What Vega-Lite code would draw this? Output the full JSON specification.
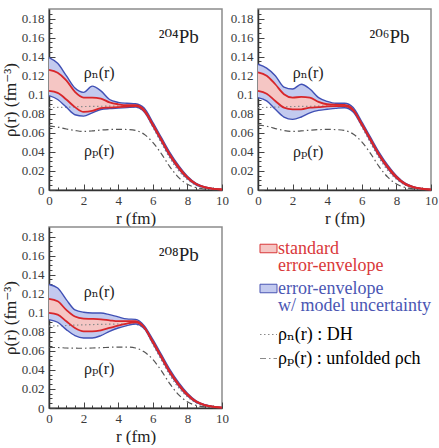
{
  "$schema": "https://vega.github.io/schema/vega-lite/v6.json",
  "background": "white",
  "padding": {"left": 0, "top": 7, "right": 0, "bottom": 0},
  "datasets": {
    "dens": [
      {"nuc": "204", "r": 0, "bh": 0.139, "rh": 0.126, "rl": 0.104, "bl": 0.099, "dh": 0.0865, "p": 0.067},
      {"nuc": "204", "r": 0.5, "bh": 0.133, "rh": 0.123, "rl": 0.102, "bl": 0.095, "dh": 0.0867, "p": 0.066},
      {"nuc": "204", "r": 1, "bh": 0.12, "rh": 0.115, "rl": 0.095, "bl": 0.087, "dh": 0.087, "p": 0.064},
      {"nuc": "204", "r": 1.5, "bh": 0.107, "rh": 0.103, "rl": 0.087, "bl": 0.079, "dh": 0.0873, "p": 0.0625},
      {"nuc": "204", "r": 2, "bh": 0.1025, "rh": 0.097, "rl": 0.082, "bl": 0.0775, "dh": 0.0876, "p": 0.0615},
      {"nuc": "204", "r": 2.5, "bh": 0.109, "rh": 0.097, "rl": 0.083, "bl": 0.081, "dh": 0.0878, "p": 0.062},
      {"nuc": "204", "r": 3, "bh": 0.104, "rh": 0.096, "rl": 0.086, "bl": 0.0845, "dh": 0.0879, "p": 0.063},
      {"nuc": "204", "r": 3.5, "bh": 0.095, "rh": 0.092, "rl": 0.0865, "bl": 0.0855, "dh": 0.088, "p": 0.0635},
      {"nuc": "204", "r": 4, "bh": 0.092, "rh": 0.09, "rl": 0.087, "bl": 0.086, "dh": 0.088, "p": 0.0637},
      {"nuc": "204", "r": 4.5, "bh": 0.091, "rh": 0.089, "rl": 0.0875, "bl": 0.0865, "dh": 0.0877, "p": 0.0635},
      {"nuc": "204", "r": 5, "bh": 0.0905, "rh": 0.089, "rl": 0.088, "bl": 0.087, "dh": 0.087, "p": 0.0625},
      {"nuc": "204", "r": 5.5, "bh": 0.086, "rh": 0.084, "rl": 0.083, "bl": 0.082, "dh": 0.082, "p": 0.0585},
      {"nuc": "204", "r": 6, "bh": 0.071, "rh": 0.069, "rl": 0.068, "bl": 0.067, "dh": 0.066, "p": 0.05},
      {"nuc": "204", "r": 6.5, "bh": 0.055, "rh": 0.053, "rl": 0.052, "bl": 0.051, "dh": 0.049, "p": 0.038},
      {"nuc": "204", "r": 7, "bh": 0.039, "rh": 0.037, "rl": 0.036, "bl": 0.035, "dh": 0.033, "p": 0.024},
      {"nuc": "204", "r": 7.5, "bh": 0.0255, "rh": 0.024, "rl": 0.023, "bl": 0.022, "dh": 0.02, "p": 0.013},
      {"nuc": "204", "r": 8, "bh": 0.0145, "rh": 0.0135, "rl": 0.0128, "bl": 0.012, "dh": 0.011, "p": 0.006},
      {"nuc": "204", "r": 8.5, "bh": 0.007, "rh": 0.0065, "rl": 0.006, "bl": 0.0055, "dh": 0.005, "p": 0.0025},
      {"nuc": "204", "r": 9, "bh": 0.0032, "rh": 0.0029, "rl": 0.0027, "bl": 0.0025, "dh": 0.0022, "p": 0.001},
      {"nuc": "204", "r": 9.5, "bh": 0.0014, "rh": 0.0012, "rl": 0.0011, "bl": 0.001, "dh": 0.0009, "p": 0.0004},
      {"nuc": "204", "r": 10, "bh": 0.0006, "rh": 0.0005, "rl": 0.0005, "bl": 0.0004, "dh": 0.0004, "p": 0.0002},
      {"nuc": "206", "r": 0, "bh": 0.132, "rh": 0.1235, "rl": 0.104, "bl": 0.097, "dh": 0.0865, "p": 0.068},
      {"nuc": "206", "r": 0.5, "bh": 0.128, "rh": 0.12, "rl": 0.101, "bl": 0.0935, "dh": 0.0867, "p": 0.067},
      {"nuc": "206", "r": 1, "bh": 0.12, "rh": 0.111, "rl": 0.0935, "bl": 0.0847, "dh": 0.087, "p": 0.0645},
      {"nuc": "206", "r": 1.5, "bh": 0.108, "rh": 0.1006, "rl": 0.0865, "bl": 0.0766, "dh": 0.0873, "p": 0.0625},
      {"nuc": "206", "r": 2, "bh": 0.106, "rh": 0.097, "rl": 0.0847, "bl": 0.0741, "dh": 0.0876, "p": 0.0615},
      {"nuc": "206", "r": 2.5, "bh": 0.111, "rh": 0.0977, "rl": 0.0847, "bl": 0.0766, "dh": 0.0878, "p": 0.062},
      {"nuc": "206", "r": 3, "bh": 0.106, "rh": 0.097, "rl": 0.0864, "bl": 0.081, "dh": 0.0879, "p": 0.0628},
      {"nuc": "206", "r": 3.5, "bh": 0.097, "rh": 0.0925, "rl": 0.087, "bl": 0.0836, "dh": 0.088, "p": 0.0634},
      {"nuc": "206", "r": 4, "bh": 0.093, "rh": 0.09, "rl": 0.0878, "bl": 0.0847, "dh": 0.088, "p": 0.0636},
      {"nuc": "206", "r": 4.5, "bh": 0.091, "rh": 0.0895, "rl": 0.088, "bl": 0.0857, "dh": 0.0877, "p": 0.0634},
      {"nuc": "206", "r": 5, "bh": 0.091, "rh": 0.0893, "rl": 0.088, "bl": 0.0864, "dh": 0.0872, "p": 0.0625},
      {"nuc": "206", "r": 5.5, "bh": 0.0865, "rh": 0.0845, "rl": 0.0835, "bl": 0.082, "dh": 0.0825, "p": 0.0588},
      {"nuc": "206", "r": 6, "bh": 0.0715, "rh": 0.0695, "rl": 0.0685, "bl": 0.0675, "dh": 0.0665, "p": 0.0505},
      {"nuc": "206", "r": 6.5, "bh": 0.0555, "rh": 0.0535, "rl": 0.0525, "bl": 0.0515, "dh": 0.0495, "p": 0.0385},
      {"nuc": "206", "r": 7, "bh": 0.0395, "rh": 0.0375, "rl": 0.0365, "bl": 0.0355, "dh": 0.0335, "p": 0.0245},
      {"nuc": "206", "r": 7.5, "bh": 0.026, "rh": 0.0245, "rl": 0.0235, "bl": 0.0225, "dh": 0.0205, "p": 0.0135},
      {"nuc": "206", "r": 8, "bh": 0.015, "rh": 0.014, "rl": 0.013, "bl": 0.0123, "dh": 0.0113, "p": 0.0063},
      {"nuc": "206", "r": 8.5, "bh": 0.0072, "rh": 0.0067, "rl": 0.0062, "bl": 0.0057, "dh": 0.0052, "p": 0.0027},
      {"nuc": "206", "r": 9, "bh": 0.0033, "rh": 0.003, "rl": 0.0028, "bl": 0.0026, "dh": 0.0023, "p": 0.0011},
      {"nuc": "206", "r": 9.5, "bh": 0.0014, "rh": 0.0013, "rl": 0.0012, "bl": 0.0011, "dh": 0.001, "p": 0.0004},
      {"nuc": "206", "r": 10, "bh": 0.0006, "rh": 0.0005, "rl": 0.0005, "bl": 0.0004, "dh": 0.0004, "p": 0.0002},
      {"nuc": "208", "r": 0, "bh": 0.1296, "rh": 0.1145, "rl": 0.0998, "bl": 0.0928, "dh": 0.086, "p": 0.0635},
      {"nuc": "208", "r": 0.5, "bh": 0.126, "rh": 0.112, "rl": 0.098, "bl": 0.09, "dh": 0.0862, "p": 0.0635},
      {"nuc": "208", "r": 1, "bh": 0.1138, "rh": 0.103, "rl": 0.091, "bl": 0.0823, "dh": 0.0866, "p": 0.063},
      {"nuc": "208", "r": 1.5, "bh": 0.103, "rh": 0.096, "rl": 0.084, "bl": 0.076, "dh": 0.087, "p": 0.0628},
      {"nuc": "208", "r": 2, "bh": 0.1005, "rh": 0.0938, "rl": 0.0805, "bl": 0.0735, "dh": 0.0873, "p": 0.0627},
      {"nuc": "208", "r": 2.5, "bh": 0.0998, "rh": 0.0935, "rl": 0.0805, "bl": 0.0735, "dh": 0.0876, "p": 0.063},
      {"nuc": "208", "r": 3, "bh": 0.0998, "rh": 0.093, "rl": 0.0816, "bl": 0.076, "dh": 0.0878, "p": 0.0633},
      {"nuc": "208", "r": 3.5, "bh": 0.098, "rh": 0.092, "rl": 0.084, "bl": 0.0805, "dh": 0.088, "p": 0.0637},
      {"nuc": "208", "r": 4, "bh": 0.0956, "rh": 0.0911, "rl": 0.0865, "bl": 0.084, "dh": 0.0882, "p": 0.064},
      {"nuc": "208", "r": 4.5, "bh": 0.0935, "rh": 0.0911, "rl": 0.0886, "bl": 0.0865, "dh": 0.0882, "p": 0.064},
      {"nuc": "208", "r": 5, "bh": 0.093, "rh": 0.0911, "rl": 0.09, "bl": 0.0882, "dh": 0.0878, "p": 0.063},
      {"nuc": "208", "r": 5.5, "bh": 0.0865, "rh": 0.085, "rl": 0.0845, "bl": 0.0835, "dh": 0.083, "p": 0.059},
      {"nuc": "208", "r": 6, "bh": 0.072, "rh": 0.07, "rl": 0.069, "bl": 0.068, "dh": 0.067, "p": 0.051},
      {"nuc": "208", "r": 6.5, "bh": 0.056, "rh": 0.054, "rl": 0.053, "bl": 0.052, "dh": 0.05, "p": 0.039},
      {"nuc": "208", "r": 7, "bh": 0.04, "rh": 0.038, "rl": 0.037, "bl": 0.036, "dh": 0.034, "p": 0.025},
      {"nuc": "208", "r": 7.5, "bh": 0.0265, "rh": 0.025, "rl": 0.024, "bl": 0.023, "dh": 0.021, "p": 0.0138},
      {"nuc": "208", "r": 8, "bh": 0.0155, "rh": 0.0145, "rl": 0.0135, "bl": 0.0128, "dh": 0.0118, "p": 0.0065},
      {"nuc": "208", "r": 8.5, "bh": 0.0075, "rh": 0.007, "rl": 0.0065, "bl": 0.006, "dh": 0.0055, "p": 0.0028},
      {"nuc": "208", "r": 9, "bh": 0.0034, "rh": 0.0031, "rl": 0.0029, "bl": 0.0027, "dh": 0.0024, "p": 0.0011},
      {"nuc": "208", "r": 9.5, "bh": 0.0015, "rh": 0.0013, "rl": 0.0012, "bl": 0.0011, "dh": 0.001, "p": 0.0004},
      {"nuc": "208", "r": 10, "bh": 0.0006, "rh": 0.0005, "rl": 0.0005, "bl": 0.0004, "dh": 0.0004, "p": 0.0002}
    ],
    "notes": [
      {"nuc": "204", "kind": "iso", "r": 7.5, "v": 0.161, "label": "²⁰⁴Pb"},
      {"nuc": "204", "kind": "rho", "r": 2.9, "v": 0.123, "label": "ρₙ(r)"},
      {"nuc": "204", "kind": "rho", "r": 2.9, "v": 0.041, "label": "ρₚ(r)"},
      {"nuc": "206", "kind": "iso", "r": 7.6, "v": 0.161, "label": "²⁰⁶Pb"},
      {"nuc": "206", "kind": "rho", "r": 2.9, "v": 0.123, "label": "ρₙ(r)"},
      {"nuc": "206", "kind": "rho", "r": 2.9, "v": 0.04, "label": "ρₚ(r)"},
      {"nuc": "208", "kind": "iso", "r": 7.5, "v": 0.161, "label": "²⁰⁸Pb"},
      {"nuc": "208", "kind": "rho", "r": 2.9, "v": 0.122, "label": "ρₙ(r)"},
      {"nuc": "208", "kind": "rho", "r": 2.9, "v": 0.041, "label": "ρₚ(r)"}
    ]
  },
  "config": {
    "font": "Liberation Serif, Times New Roman, DejaVu Serif, serif",
    "view": {"stroke": "#8c8c8c", "strokeWidth": 1.5},
    "axis": {"labelOverlap": false, "labelFlush": false, "grid": false}
  },
  "spacing": -3,
  "vconcat": [
    {
      "spacing": 36,
      "bounds": "flush",
      "hconcat": [
        {
          "width": 173, "height": 181,
          "data": {"name": "dens"},
          "transform": [{"filter": "datum.nuc === '204'"}],
          "layer": [
            {"mark": {"type": "area", "interpolate": "monotone"},
             "encoding": {
               "x": {"field": "r", "type": "quantitative", "scale": {"domain": [0, 10], "nice": false},
                     "axis": {"title": "r (fm)", "titlePadding": 3, "labelPadding": 10, "grid": false,
                              "labelFontSize": 13, "titleFontSize": 17, "titleFontWeight": "normal", "labelColor": "#3a3a3a", "titleColor": "#222",
                              "domainColor": "#333", "domainWidth": 1.5, "tickColor": "#444", "tickSize": -6, "tickCount": 100,
                              "labelFlush": false, "labelOverlap": false,
                              "values": [0,0.5,1,1.5,2,2.5,3,3.5,4,4.5,5,5.5,6,6.5,7,7.5,8,8.5,9,9.5,10],
                              "tickDash": {"condition": {"test": "datum.value % 2 === 0", "value": []}, "value": [3, 30]},
                              "labelExpr": "datum.value % 2 === 0 ? format(datum.value, 'd') : ''"}},
               "y": {"field": "bl", "type": "quantitative", "scale": {"domain": [0, 0.19], "nice": false, "zero": false},
                     "axis": {"title": "ρ(r) (fm⁻³)", "titlePadding": 2, "labelPadding": 11, "grid": false,
                              "labelFontSize": 13, "titleFontSize": 17, "titleFontWeight": "normal", "labelColor": "#3a3a3a", "titleColor": "#222",
                              "domainColor": "#333", "domainWidth": 1.5, "tickColor": "#444", "tickSize": -6, "tickCount": 100,
                              "labelFlush": false, "labelOverlap": false,
                              "values": [0,0.005,0.01,0.015,0.02,0.025,0.03,0.035,0.04,0.045,0.05,0.055,0.06,0.065,0.07,0.075,0.08,0.085,0.09,0.095,0.1,0.105,0.11,0.115,0.12,0.125,0.13,0.135,0.14,0.145,0.15,0.155,0.16,0.165,0.17,0.175,0.18,0.185],
                              "tickDash": {"condition": {"test": "abs(datum.value*50 - round(datum.value*50)) < 0.01", "value": []}, "value": [3, 30]},
                              "labelExpr": "abs(datum.value*50 - round(datum.value*50)) < 0.01 ? format(datum.value, '.2~f') : ''"}},
               "y2": {"field": "bh"},
               "fill": {"datum": "model", "scale": {"domain": ["std", "model"], "range": ["#f5c6c4", "#c3caef"]},
                        "legend": {"title": null, "orient": "none", "legendX": 210, "legendY": 230,
                                   "symbolType": "M-1,-0.5H1V0.5H-1Z", "symbolSize": 290, "symbolStrokeWidth": 1,
                                   "labelFontSize": 18, "labelLimit": 240,
                                   "labelBaseline": "top", "labelOffset": 0, "rowPadding": 4,
                                   "labelExpr": "datum.value === 'std' ? ['standard', 'error-envelope'] : ['error-envelope', 'w/ model uncertainty']",
                                   "encode": {
                                     "labels": {"update": {"fill": {"signal": "datum.value === 'std' ? '#d9383a' : '#4a56b3'"}, "dy": {"value": -9}, "lineHeight": {"value": 17}}},
                                     "symbols": {"update": {"stroke": {"signal": "datum.value === 'std' ? '#d9383a' : '#4a56b3'"}}}
                                   }}}
             }},
            {"mark": {"type": "area", "interpolate": "monotone"},
             "encoding": {"x": {"field": "r", "type": "quantitative"}, "y": {"field": "rl", "type": "quantitative"},
                          "y2": {"field": "rh"}, "fill": {"datum": "std"}}},
            {"mark": {"type": "line", "interpolate": "monotone", "color": "#8a8a8a", "strokeWidth": 1.2},
             "encoding": {"x": {"field": "r", "type": "quantitative"}, "y": {"field": "dh", "type": "quantitative"},
                          "strokeDash": {"datum": "dh", "scale": {"domain": ["dh", "p"], "range": [[1.5, 2.5], [6, 3, 1.5, 3]]},
                                         "legend": {"title": null, "orient": "none", "legendX": 210, "legendY": 316,
                                                    "symbolType": "stroke", "symbolSize": 289, "symbolStrokeWidth": 1.2,
                                                    "labelFontSize": 18, "labelLimit": 240, "labelOffset": 0, "rowPadding": 5,
                                                    "labelExpr": "datum.value === 'dh' ? 'ρₙ(r) : DH' : 'ρₚ(r) : unfolded ρch'",
                                                    "encode": {
                                                      "labels": {"update": {"fill": {"value": "#222"}}},
                                                      "symbols": {"update": {"stroke": {"signal": "datum.value === 'dh' ? '#8a8a8a' : '#444'"}}}
                                                    }}}}},
            {"mark": {"type": "line", "interpolate": "monotone", "color": "#555", "strokeWidth": 1.2},
             "encoding": {"x": {"field": "r", "type": "quantitative"}, "y": {"field": "p", "type": "quantitative"}, "strokeDash": {"datum": "p"}}},
            {"mark": {"type": "line", "interpolate": "monotone", "color": "#4050b5", "strokeWidth": 1.4},
             "encoding": {"x": {"field": "r", "type": "quantitative"}, "y": {"field": "bh", "type": "quantitative"}}},
            {"mark": {"type": "line", "interpolate": "monotone", "color": "#4050b5", "strokeWidth": 1.4},
             "encoding": {"x": {"field": "r", "type": "quantitative"}, "y": {"field": "bl", "type": "quantitative"}}},
            {"mark": {"type": "line", "interpolate": "monotone", "color": "#d8262a", "strokeWidth": 1.8},
             "encoding": {"x": {"field": "r", "type": "quantitative"}, "y": {"field": "rh", "type": "quantitative"}}},
            {"mark": {"type": "line", "interpolate": "monotone", "color": "#d8262a", "strokeWidth": 1.8},
             "encoding": {"x": {"field": "r", "type": "quantitative"}, "y": {"field": "rl", "type": "quantitative"}}},
            {"data": {"name": "notes"}, "transform": [{"filter": "datum.nuc === '204' && datum.kind === 'iso'"}],
             "mark": {"type": "text", "fontSize": 19, "color": "#222", "align": "center", "baseline": "middle"},
             "encoding": {"x": {"field": "r", "type": "quantitative"}, "y": {"field": "v", "type": "quantitative"}, "text": {"field": "label"}}},
            {"data": {"name": "notes"}, "transform": [{"filter": "datum.nuc === '204' && datum.kind === 'rho'"}],
             "mark": {"type": "text", "fontSize": 16, "color": "#222", "align": "center", "baseline": "middle"},
             "encoding": {"x": {"field": "r", "type": "quantitative"}, "y": {"field": "v", "type": "quantitative"}, "text": {"field": "label"}}}
          ]
        },
        {
          "width": 173, "height": 181,
          "data": {"name": "dens"},
          "transform": [{"filter": "datum.nuc === '206'"}],
          "layer": [
            {"mark": {"type": "area", "interpolate": "monotone"},
             "encoding": {
               "x": {"field": "r", "type": "quantitative", "scale": {"domain": [0, 10], "nice": false},
                     "axis": {"title": "r (fm)", "titlePadding": 3, "labelPadding": 10, "grid": false,
                              "labelFontSize": 13, "titleFontSize": 17, "titleFontWeight": "normal", "labelColor": "#3a3a3a", "titleColor": "#222",
                              "domainColor": "#333", "domainWidth": 1.5, "tickColor": "#444", "tickSize": -6, "tickCount": 100,
                              "labelFlush": false, "labelOverlap": false,
                              "values": [0,0.5,1,1.5,2,2.5,3,3.5,4,4.5,5,5.5,6,6.5,7,7.5,8,8.5,9,9.5,10],
                              "tickDash": {"condition": {"test": "datum.value % 2 === 0", "value": []}, "value": [3, 30]},
                              "labelExpr": "datum.value % 2 === 0 ? format(datum.value, 'd') : ''"}},
               "y": {"field": "bl", "type": "quantitative", "scale": {"domain": [0, 0.19], "nice": false, "zero": false},
                     "axis": {"title": null, "labelPadding": 11, "grid": false,
                              "labelFontSize": 13, "labelColor": "#3a3a3a",
                              "domainColor": "#333", "domainWidth": 1.5, "tickColor": "#444", "tickSize": -6, "tickCount": 100,
                              "labelFlush": false, "labelOverlap": false,
                              "values": [0,0.005,0.01,0.015,0.02,0.025,0.03,0.035,0.04,0.045,0.05,0.055,0.06,0.065,0.07,0.075,0.08,0.085,0.09,0.095,0.1,0.105,0.11,0.115,0.12,0.125,0.13,0.135,0.14,0.145,0.15,0.155,0.16,0.165,0.17,0.175,0.18,0.185],
                              "tickDash": {"condition": {"test": "abs(datum.value*50 - round(datum.value*50)) < 0.01", "value": []}, "value": [3, 30]},
                              "labelExpr": "abs(datum.value*50 - round(datum.value*50)) < 0.01 ? format(datum.value, '.2~f') : ''"}},
               "y2": {"field": "bh"},
               "fill": {"datum": "model"}
             }},
            {"mark": {"type": "area", "interpolate": "monotone"},
             "encoding": {"x": {"field": "r", "type": "quantitative"}, "y": {"field": "rl", "type": "quantitative"},
                          "y2": {"field": "rh"}, "fill": {"datum": "std"}}},
            {"mark": {"type": "line", "interpolate": "monotone", "color": "#8a8a8a", "strokeWidth": 1.2},
             "encoding": {"x": {"field": "r", "type": "quantitative"}, "y": {"field": "dh", "type": "quantitative"}, "strokeDash": {"datum": "dh"}}},
            {"mark": {"type": "line", "interpolate": "monotone", "color": "#555", "strokeWidth": 1.2},
             "encoding": {"x": {"field": "r", "type": "quantitative"}, "y": {"field": "p", "type": "quantitative"}, "strokeDash": {"datum": "p"}}},
            {"mark": {"type": "line", "interpolate": "monotone", "color": "#4050b5", "strokeWidth": 1.4},
             "encoding": {"x": {"field": "r", "type": "quantitative"}, "y": {"field": "bh", "type": "quantitative"}}},
            {"mark": {"type": "line", "interpolate": "monotone", "color": "#4050b5", "strokeWidth": 1.4},
             "encoding": {"x": {"field": "r", "type": "quantitative"}, "y": {"field": "bl", "type": "quantitative"}}},
            {"mark": {"type": "line", "interpolate": "monotone", "color": "#d8262a", "strokeWidth": 1.8},
             "encoding": {"x": {"field": "r", "type": "quantitative"}, "y": {"field": "rh", "type": "quantitative"}}},
            {"mark": {"type": "line", "interpolate": "monotone", "color": "#d8262a", "strokeWidth": 1.8},
             "encoding": {"x": {"field": "r", "type": "quantitative"}, "y": {"field": "rl", "type": "quantitative"}}},
            {"data": {"name": "notes"}, "transform": [{"filter": "datum.nuc === '206' && datum.kind === 'iso'"}],
             "mark": {"type": "text", "fontSize": 19, "color": "#222", "align": "center", "baseline": "middle"},
             "encoding": {"x": {"field": "r", "type": "quantitative"}, "y": {"field": "v", "type": "quantitative"}, "text": {"field": "label"}}},
            {"data": {"name": "notes"}, "transform": [{"filter": "datum.nuc === '206' && datum.kind === 'rho'"}],
             "mark": {"type": "text", "fontSize": 16, "color": "#222", "align": "center", "baseline": "middle"},
             "encoding": {"x": {"field": "r", "type": "quantitative"}, "y": {"field": "v", "type": "quantitative"}, "text": {"field": "label"}}}
          ]
        }
      ]
    },
    {
      "spacing": 36,
      "bounds": "flush",
      "hconcat": [
        {
          "width": 173, "height": 181,
          "data": {"name": "dens"},
          "transform": [{"filter": "datum.nuc === '208'"}],
          "layer": [
            {"mark": {"type": "area", "interpolate": "monotone"},
             "encoding": {
               "x": {"field": "r", "type": "quantitative", "scale": {"domain": [0, 10], "nice": false},
                     "axis": {"title": "r (fm)", "titlePadding": 3, "labelPadding": 10, "grid": false,
                              "labelFontSize": 13, "titleFontSize": 17, "titleFontWeight": "normal", "labelColor": "#3a3a3a", "titleColor": "#222",
                              "domainColor": "#333", "domainWidth": 1.5, "tickColor": "#444", "tickSize": -6, "tickCount": 100,
                              "labelFlush": false, "labelOverlap": false,
                              "values": [0,0.5,1,1.5,2,2.5,3,3.5,4,4.5,5,5.5,6,6.5,7,7.5,8,8.5,9,9.5,10],
                              "tickDash": {"condition": {"test": "datum.value % 2 === 0", "value": []}, "value": [3, 30]},
                              "labelExpr": "datum.value % 2 === 0 ? format(datum.value, 'd') : ''"}},
               "y": {"field": "bl", "type": "quantitative", "scale": {"domain": [0, 0.19], "nice": false, "zero": false},
                     "axis": {"title": "ρ(r) (fm⁻³)", "titlePadding": 2, "labelPadding": 11, "grid": false,
                              "labelFontSize": 13, "titleFontSize": 17, "titleFontWeight": "normal", "labelColor": "#3a3a3a", "titleColor": "#222",
                              "domainColor": "#333", "domainWidth": 1.5, "tickColor": "#444", "tickSize": -6, "tickCount": 100,
                              "labelFlush": false, "labelOverlap": false,
                              "values": [0,0.005,0.01,0.015,0.02,0.025,0.03,0.035,0.04,0.045,0.05,0.055,0.06,0.065,0.07,0.075,0.08,0.085,0.09,0.095,0.1,0.105,0.11,0.115,0.12,0.125,0.13,0.135,0.14,0.145,0.15,0.155,0.16,0.165,0.17,0.175,0.18,0.185],
                              "tickDash": {"condition": {"test": "abs(datum.value*50 - round(datum.value*50)) < 0.01", "value": []}, "value": [3, 30]},
                              "labelExpr": "abs(datum.value*50 - round(datum.value*50)) < 0.01 ? format(datum.value, '.2~f') : ''"}},
               "y2": {"field": "bh"},
               "fill": {"datum": "model"}
             }},
            {"mark": {"type": "area", "interpolate": "monotone"},
             "encoding": {"x": {"field": "r", "type": "quantitative"}, "y": {"field": "rl", "type": "quantitative"},
                          "y2": {"field": "rh"}, "fill": {"datum": "std"}}},
            {"mark": {"type": "line", "interpolate": "monotone", "color": "#8a8a8a", "strokeWidth": 1.2},
             "encoding": {"x": {"field": "r", "type": "quantitative"}, "y": {"field": "dh", "type": "quantitative"}, "strokeDash": {"datum": "dh"}}},
            {"mark": {"type": "line", "interpolate": "monotone", "color": "#555", "strokeWidth": 1.2},
             "encoding": {"x": {"field": "r", "type": "quantitative"}, "y": {"field": "p", "type": "quantitative"}, "strokeDash": {"datum": "p"}}},
            {"mark": {"type": "line", "interpolate": "monotone", "color": "#4050b5", "strokeWidth": 1.4},
             "encoding": {"x": {"field": "r", "type": "quantitative"}, "y": {"field": "bh", "type": "quantitative"}}},
            {"mark": {"type": "line", "interpolate": "monotone", "color": "#4050b5", "strokeWidth": 1.4},
             "encoding": {"x": {"field": "r", "type": "quantitative"}, "y": {"field": "bl", "type": "quantitative"}}},
            {"mark": {"type": "line", "interpolate": "monotone", "color": "#d8262a", "strokeWidth": 1.8},
             "encoding": {"x": {"field": "r", "type": "quantitative"}, "y": {"field": "rh", "type": "quantitative"}}},
            {"mark": {"type": "line", "interpolate": "monotone", "color": "#d8262a", "strokeWidth": 1.8},
             "encoding": {"x": {"field": "r", "type": "quantitative"}, "y": {"field": "rl", "type": "quantitative"}}},
            {"data": {"name": "notes"}, "transform": [{"filter": "datum.nuc === '208' && datum.kind === 'iso'"}],
             "mark": {"type": "text", "fontSize": 19, "color": "#222", "align": "center", "baseline": "middle"},
             "encoding": {"x": {"field": "r", "type": "quantitative"}, "y": {"field": "v", "type": "quantitative"}, "text": {"field": "label"}}},
            {"data": {"name": "notes"}, "transform": [{"filter": "datum.nuc === '208' && datum.kind === 'rho'"}],
             "mark": {"type": "text", "fontSize": 16, "color": "#222", "align": "center", "baseline": "middle"},
             "encoding": {"x": {"field": "r", "type": "quantitative"}, "y": {"field": "v", "type": "quantitative"}, "text": {"field": "label"}}}
          ]
        }
      ]
    }
  ]
}
